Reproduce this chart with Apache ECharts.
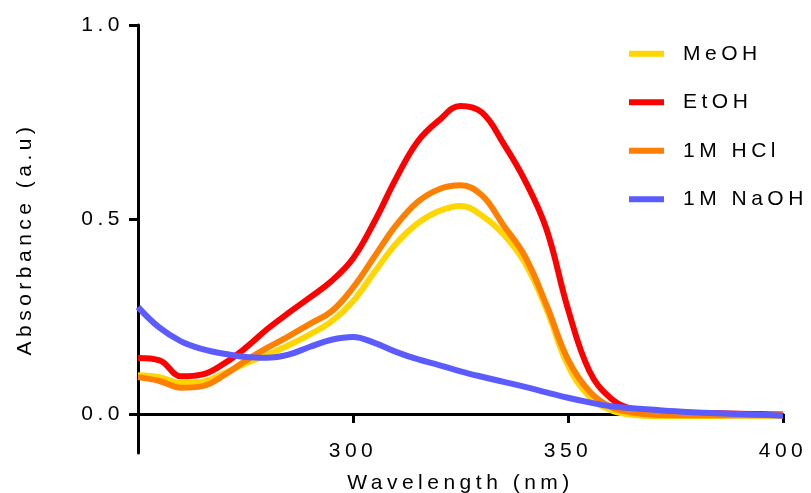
<!DOCTYPE html>
<html>
<head>
<meta charset="utf-8">
<script src="https://cdn.jsdelivr.net/npm/echarts@6/dist/echarts.min.js"></script>
<style>
  html, body { margin: 0; padding: 0; background: #fff; }
  #chart { width: 811px; height: 493px; }
</style>
</head>
<body>
<div id="chart"></div>
<script>
// wide letter spacing like the original figure (canvas letterSpacing)
const ctxProto = CanvasRenderingContext2D.prototype
const fontDesc = Object.getOwnPropertyDescriptor(ctxProto, 'font')
Object.defineProperty(ctxProto, 'font', {
  get() { return fontDesc.get.call(this) },
  set(v) {
    fontDesc.set.call(this, v)
    if ('letterSpacing' in this) this.letterSpacing = '4.5px'
  }
})

const wavelength = [250, 255, 260, 265, 270, 275, 280, 285, 290, 295, 300, 305, 310, 315, 320,
  325, 330, 335, 340, 345, 350, 355, 360, 365, 370, 375, 380, 385, 390, 395, 400]

const meoh = [0.100, 0.095, 0.080, 0.083, 0.105, 0.130, 0.152, 0.177, 0.205, 0.238, 0.290, 0.365, 0.438, 0.490, 0.522,
  0.535, 0.510, 0.462, 0.388, 0.270, 0.125, 0.045, 0.010, -0.002, -0.005, -0.005, -0.005, -0.005, -0.004, -0.004, -0.004]
const etoh = [0.144, 0.138, 0.097, 0.102, 0.130, 0.170, 0.218, 0.260, 0.300, 0.342, 0.400, 0.495, 0.605, 0.700, 0.755,
  0.792, 0.775, 0.695, 0.600, 0.475, 0.270, 0.110, 0.040, 0.013, 0.006, 0.004, 0.003, 0.002, 0.001, 0.000, -0.001]
const hcl = [0.095, 0.085, 0.068, 0.072, 0.100, 0.137, 0.170, 0.200, 0.232, 0.264, 0.325, 0.405, 0.485, 0.545, 0.578,
  0.588, 0.562, 0.485, 0.405, 0.280, 0.140, 0.058, 0.018, 0.004, -0.002, -0.003, -0.003, -0.003, -0.003, -0.003, -0.003]
const naoh = [0.275, 0.222, 0.187, 0.167, 0.155, 0.147, 0.145, 0.153, 0.173, 0.191, 0.198, 0.183, 0.160, 0.141, 0.126,
  0.110, 0.096, 0.083, 0.070, 0.056, 0.042, 0.030, 0.020, 0.015, 0.011, 0.007, 0.004, 0.002, 0.000, -0.002, -0.004]

const xTicks = [300, 350, 400]
const yTicks = [0, 0.5, 1.0]

const seriesList = [
  { name: 'MeOH', values: meoh, color: '#FFD600' },
  { name: 'EtOH', values: etoh, color: '#FF0000' },
  { name: '1M HCl', values: hcl, color: '#FF8000' },
  { name: '1M NaOH', values: naoh, color: '#5B5BFF' }
]

const font = 'Liberation Sans, Arial, sans-serif'
const chart = echarts.init(document.getElementById('chart'))

chart.setOption({
  animation: false,
  grid: { left: 138, right: 28, top: 25, bottom: 40, outerBoundsMode: 'none' },
  legend: {
    orient: 'vertical',
    left: 629,
    top: 41,
    padding: 0,
    itemWidth: 35,
    itemHeight: 6,
    itemGap: 23,
    icon: 'rect',
    textStyle: { fontFamily: font, fontSize: 21, color: '#000', padding: [0, 0, 0, 14] },
    data: seriesList.map(s => s.name)
  },
  xAxis: {
    type: 'value',
    min: 250,
    max: 400,
    name: 'Wavelength (nm)',
    nameLocation: 'middle',
    nameGap: 17,
    nameTextStyle: { fontFamily: font, fontSize: 21, color: '#000' },
    axisLine: { onZero: true, lineStyle: { color: '#000', width: 3 } },
    axisTick: { customValues: xTicks, length: 9, lineStyle: { color: '#000', width: 3 } },
    axisLabel: { customValues: xTicks, margin: -15, fontFamily: font, fontSize: 21, color: '#000' },
    splitLine: { show: false }
  },
  yAxis: {
    type: 'value',
    min: -0.1,
    max: 1.0,
    name: 'Absorbance (a.u)',
    nameLocation: 'middle',
    nameGap: 100,
    nameTextStyle: { fontFamily: font, fontSize: 21, color: '#000' },
    axisLine: { show: true, lineStyle: { color: '#000', width: 3 } },
    axisTick: { show: true, customValues: yTicks, length: 9, lineStyle: { color: '#000', width: 3 } },
    axisLabel: {
      customValues: yTicks,
      margin: 14,
      fontFamily: font,
      fontSize: 21,
      color: '#000',
      formatter: v => v.toFixed(1)
    },
    splitLine: { show: false }
  },
  series: seriesList.map(s => ({
    name: s.name,
    type: 'line',
    smooth: 0.4,
    showSymbol: false,
    symbol: 'none',
    color: s.color,
    lineStyle: { color: s.color, width: 6 },
    data: wavelength.map((w, i) => [w, s.values[i]])
  }))
})
</script>
</body>
</html>
